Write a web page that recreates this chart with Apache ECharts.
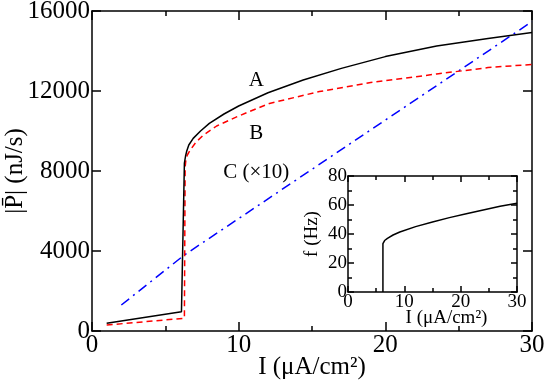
<!DOCTYPE html>
<html lang="en">
<head>
<meta charset="UTF-8">
<title>Power vs current</title>
<script src="https://cdn.jsdelivr.net/npm/echarts@6/dist/echarts.min.js"></script>
<style>
  html, body { margin: 0; padding: 0; background: #fff; }
  #main { width: 545px; height: 385px; }
</style>
</head>
<body>
<div id="main"></div>
<script type="text/javascript">
// curve A (black, solid)
var currentA = [1, 6.1, 6.3, 6.38, 6.45, 6.6, 6.9, 7.4, 8, 9, 10, 12, 14.4, 17, 20, 23.5, 27, 30];
var powerA = [385, 965, 8400, 8750, 8970, 9300, 9630, 10000, 10380, 10850, 11250, 11910, 12550, 13130, 13720, 14250, 14630, 14920];
// curve B (red, dashed)
var currentB = [1, 6.3, 6.35, 6.4, 6.5, 6.7, 7.1, 7.6, 8.5, 9.9, 12.1, 15.5, 19, 23.5, 27, 30];
var powerB = [300, 635, 8200, 8550, 8800, 9050, 9450, 9800, 10250, 10720, 11380, 11970, 12420, 12850, 13170, 13330];
// curve C (blue, dash-dot, x10)
var currentC = [2, 6.3, 30];
var powerC = [1300, 3800, 15470];
// inset: frequency
var currentF = [6.2, 6.2, 6.3, 6.5, 7, 8, 9.2, 12, 15, 18, 21, 24, 27, 30];
var freqF = [0, 33.4, 34.6, 35.5, 37, 39.3, 41.4, 45.1, 48.3, 51.3, 54, 56.6, 59.1, 61.2];
// curve labels
var curveLabels = [[11.2, 12550, 'A'], [11.2, 9900, 'B'], [11.2, 7950, 'C (\u00d710)']];

var dom = document.getElementById('main');
var myChart = echarts.init(dom, null, { renderer: 'canvas' });

function pairs(xs, ys) {
  return xs.map(function (x, i) { return [x, ys[i]]; });
}

var font = 'Liberation Serif';
var axisLine = { onZero: false, lineStyle: { color: '#000', width: 1.5 } };
function plain(v) { return String(v); }

function mirror(base) {
  return Object.assign({}, base, {
    axisLabel: { show: false },
    name: ''
  });
}

var mainX = {
  type: 'value', gridIndex: 0, min: 0, max: 30, interval: 10,
  axisLine: axisLine,
  axisTick: { inside: true, length: 9, lineStyle: { color: '#000', width: 1.5 } },
  minorTick: { show: true, splitNumber: 2, length: 5, lineStyle: { color: '#000', width: 1.5 } },
  splitLine: { show: false },
  axisLabel: { fontFamily: font, fontSize: 25, color: '#000', margin: 2, formatter: plain },
  name: 'I (\u03bcA/cm\u00b2)', nameLocation: 'middle', nameGap: 24, nameMoveOverlap: false,
  nameTextStyle: { fontFamily: font, fontSize: 25, color: '#000' }
};
var mainY = {
  type: 'value', gridIndex: 0, min: 0, max: 16000, interval: 4000,
  axisLine: axisLine,
  axisTick: { inside: true, length: 9, lineStyle: { color: '#000', width: 1.5 } },
  splitLine: { show: false },
  axisLabel: { fontFamily: font, fontSize: 25, color: '#000', margin: 2, formatter: plain },
  name: '|P\u0304| (nJ/s)', nameLocation: 'middle', nameGap: 64, nameMoveOverlap: false,
  nameTextStyle: { fontFamily: font, fontSize: 25, color: '#000' }
};
var insetX = {
  type: 'value', gridIndex: 1, min: 0, max: 30, interval: 10,
  axisLine: axisLine,
  axisTick: { inside: true, length: 6, lineStyle: { color: '#000', width: 1.5 } },
  minorTick: { show: true, splitNumber: 2, length: 4, lineStyle: { color: '#000', width: 1.5 } },
  splitLine: { show: false },
  axisLabel: { fontFamily: font, fontSize: 19, color: '#000', margin: 1, formatter: plain },
  name: 'I (\u03bcA/cm\u00b2)', nameLocation: 'middle', nameGap: 17, nameMoveOverlap: false,
  nameTextStyle: { fontFamily: font, fontSize: 19, color: '#000', padding: [0, 0, 0, 28] }
};
var insetY = {
  type: 'value', gridIndex: 1, min: 0, max: 80, interval: 20,
  axisLine: axisLine,
  axisTick: { inside: true, length: 6, lineStyle: { color: '#000', width: 1.5 } },
  minorTick: { show: true, splitNumber: 2, length: 4, lineStyle: { color: '#000', width: 1.5 } },
  splitLine: { show: false },
  axisLabel: { fontFamily: font, fontSize: 19, color: '#000', margin: 1, formatter: plain },
  name: 'f (Hz)', nameLocation: 'middle', nameGap: 26, nameMoveOverlap: false,
  nameTextStyle: { fontFamily: font, fontSize: 19, color: '#000' }
};

var option = {
  animation: false,
  backgroundColor: '#fff',
  grid: [
    { left: 92, top: 11, right: 13, bottom: 54, outerBoundsMode: 'none', containLabel: false },
    { left: 348, top: 176, width: 169, height: 116, show: true, backgroundColor: '#fff', borderWidth: 0,
      outerBoundsMode: 'none', containLabel: false }
  ],
  xAxis: [
    mainX,
    Object.assign(mirror(mainX), { position: 'top' }),
    insetX,
    Object.assign(mirror(insetX), { position: 'top' })
  ],
  yAxis: [
    mainY,
    Object.assign(mirror(mainY), { position: 'right' }),
    insetY,
    Object.assign(mirror(insetY), { position: 'right' })
  ],
  series: [
    {
      type: 'line', xAxisIndex: 0, yAxisIndex: 0, data: pairs(currentC, powerC),
      showSymbol: false, symbol: 'none',
      lineStyle: { color: '#0000ff', width: 1.5, type: [10, 5, 2, 5] }
    },
    {
      type: 'line', xAxisIndex: 0, yAxisIndex: 0, data: pairs(currentB, powerB),
      showSymbol: false, symbol: 'none',
      lineStyle: { color: '#ff0000', width: 1.5, type: [6, 4] }
    },
    {
      type: 'line', xAxisIndex: 0, yAxisIndex: 0, data: pairs(currentA, powerA),
      showSymbol: false, symbol: 'none',
      lineStyle: { color: '#000', width: 1.5 }
    },
    {
      type: 'scatter', xAxisIndex: 0, yAxisIndex: 0, symbolSize: 0,
      itemStyle: { opacity: 1 },
      data: curveLabels.map(function (d) { return { value: [d[0], d[1]], name: d[2] }; }),
      label: {
        show: true, position: 'inside', formatter: '{b}',
        fontFamily: font, fontSize: 21, color: '#000'
      }
    },
    {
      type: 'line', xAxisIndex: 2, yAxisIndex: 2, data: pairs(currentF, freqF),
      showSymbol: false, symbol: 'none',
      lineStyle: { color: '#000', width: 1.5 }
    }
  ]
};

myChart.setOption(option);
window.addEventListener('resize', myChart.resize);
</script>
</body>
</html>
